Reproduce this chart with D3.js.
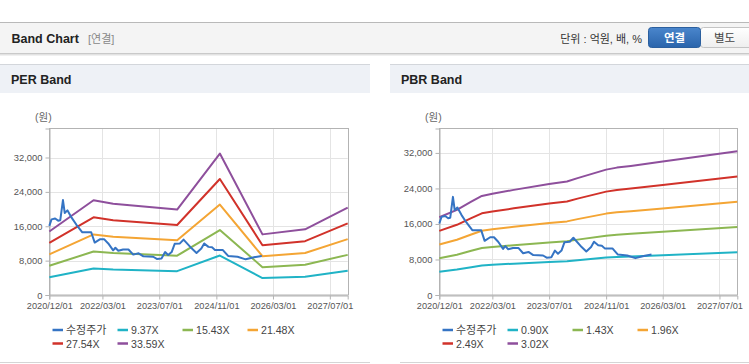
<!DOCTYPE html>
<html><head><meta charset="utf-8">
<script src="https://cdn.jsdelivr.net/npm/d3@7"></script>
<style>
html,body{margin:0;padding:0;background:#fff;}
svg{display:block;}
text{font-family:"Liberation Sans","Noto Sans CJK KR",sans-serif;}
</style></head>
<body>
<svg id="c" width="749" height="364"></svg>
<script>
// ---------- DATA ----------
const xTickLabels = ["2020/12/01","2022/03/01","2023/07/01","2024/11/01","2026/03/01","2027/07/01"];
const yTicks = [0, 8000, 16000, 24000, 32000];

const priceDates = ["2020-12-01","2020-12-20","2021-01-20","2021-02-15","2021-03-05","2021-03-28","2021-04-12","2021-05-05","2021-06-10","2021-07-20","2021-09-10","2021-11-25","2021-12-25","2022-02-10","2022-03-15","2022-04-20","2022-06-01","2022-06-20","2022-07-15","2022-08-25","2022-10-10","2022-11-20","2023-01-05","2023-02-15","2023-05-10","2023-06-10","2023-07-20","2023-08-20","2023-09-15","2023-10-15","2023-11-10","2023-12-25","2024-01-25","2024-04-05","2024-05-15","2024-06-25","2024-07-20","2024-08-25","2024-09-25","2024-10-20","2024-12-25","2025-02-10","2025-05-01","2025-07-10","2025-09-20","2025-11-25"];
const priceValues = [16100,17600,17800,17300,17400,22100,19100,19700,18000,16400,14600,14600,12200,13000,13000,12000,10400,11000,10300,10600,10600,9400,9700,9000,8900,8400,8500,10000,9300,10000,11900,12000,12900,10800,9800,10800,12000,11200,11100,10500,10500,9100,8900,8300,8800,9100];

// PER band
const perDates = ["2020-12-01","2021-12-15","2022-06-01","2023-12-01","2024-12-01","2025-12-01","2026-12-01","2027-12-01"];
const perBandNames = ["9.37X","15.43X","21.48X","27.54X","33.59X"];
const per937  = [4120, 6150, 5920, 5550, 9180, 3940, 4260, 5670];
const per1543 = [6790, 10120, 9750, 9140, 15120, 6480, 7020, 9340];
const per2148 = [9450, 14090, 13580, 12720, 21050, 9020, 9770, 13000];
const per2754 = [12120, 18070, 17410, 16300, 26990, 11570, 12530, 16660];
const per3359 = [14780, 22040, 21230, 19890, 32920, 14110, 15280, 20320];

// PBR band
const pbrDates = ["2020-12-01","2021-05-01","2021-09-01","2021-12-01","2022-03-01","2022-09-01","2023-07-01","2023-12-01","2024-03-01","2024-11-01","2025-02-01","2025-06-01","2026-03-01","2027-12-01"];
const pbrBandNames = ["0.90X","1.43X","1.96X","2.49X","3.02X"];
const pbr090 = [5220, 5720, 6260, 6650, 6800, 7060, 7450, 7610, 7850, 8420, 8550, 8670, 8960, 9650];
const pbr143 = [8290, 9080, 9950, 10570, 10800, 11210, 11840, 12100, 12470, 13370, 13590, 13770, 14230, 15330];
const pbr196 = [11370, 12450, 13640, 14480, 14800, 15370, 16230, 16580, 17090, 18330, 18620, 18880, 19500, 21010];
const pbr249 = [14440, 15810, 17330, 18400, 18800, 19520, 20620, 21070, 21710, 23280, 23660, 23980, 24780, 26690];
const pbr302 = [17520, 19180, 21020, 22320, 22800, 23680, 25010, 25550, 26330, 28240, 28690, 29080, 30050, 32370];

const colors = ["#3574c4","#20b3c6","#8cb752","#f4a534","#d1322a","#8e4f9c"];

// ---------- DRAW ----------
const svg = d3.select("#c");
const parse = d3.timeParse("%Y-%m-%d");
const fmtIn = d3.timeParse("%Y/%m/%d");

// top header bar
svg.append("rect").attr("x",0).attr("y",22).attr("width",749).attr("height",31).attr("fill","#f4f4f4");
svg.append("line").attr("x1",0).attr("x2",749).attr("y1",22.5).attr("y2",22.5).attr("stroke","#b9b9b9");
svg.append("line").attr("x1",0).attr("x2",749).attr("y1",53.5).attr("y2",53.5).attr("stroke","#c9c9c9");
svg.append("line").attr("x1",0).attr("x2",749).attr("y1",54.5).attr("y2",54.5).attr("stroke","#e2e2e2");
svg.append("line").attr("x1",0).attr("x2",749).attr("y1",55.5).attr("y2",55.5).attr("stroke","#f0f0f0");
svg.append("text").attr("x",11.5).attr("y",42.5).attr("font-size",12.5).attr("font-weight","bold").attr("fill","#222").text("Band Chart");
svg.append("text").attr("x",88).attr("y",42.5).attr("font-size",11).attr("fill","#888").text("[연결]");
svg.append("text").attr("x",642).attr("y",42.5).attr("text-anchor","end").attr("font-size",11).attr("fill","#333").text("단위 : 억원, 배, %");
const defs = svg.append("defs");
const g1 = defs.append("linearGradient").attr("id","blueg").attr("x1",0).attr("x2",0).attr("y1",0).attr("y2",1);
g1.append("stop").attr("offset","0").attr("stop-color","#4a86cc");
g1.append("stop").attr("offset","1").attr("stop-color","#2a64ab");
const g2 = defs.append("linearGradient").attr("id","whiteg").attr("x1",0).attr("x2",0).attr("y1",0).attr("y2",1);
g2.append("stop").attr("offset","0").attr("stop-color","#ffffff");
g2.append("stop").attr("offset","1").attr("stop-color","#eeeeee");
svg.append("rect").attr("x",700.5).attr("y",27.5).attr("width",52).attr("height",20).attr("rx",3).attr("fill","url(#whiteg)").attr("stroke","#c4c4c4");
svg.append("rect").attr("x",648.5).attr("y",27.5).attr("width",52).attr("height",20).attr("rx",3).attr("fill","url(#blueg)").attr("stroke","#2b5f9e");
svg.append("text").attr("x",674.5).attr("y",42).attr("text-anchor","middle").attr("font-size",11.5).attr("font-weight","bold").attr("fill","#fff").text("연결");
svg.append("text").attr("x",724.5).attr("y",42).attr("text-anchor","middle").attr("font-size",11.5).attr("fill","#444").text("별도");

function panel(opt){
  const {x0, w, title, bandDates, bands, names, ymax, plotL, plotR, legendX} = opt;
  // panel header
  svg.append("rect").attr("x",x0).attr("y",64).attr("width",w).attr("height",29).attr("fill","#eef1f6");
  svg.append("line").attr("x1",x0).attr("x2",x0+w).attr("y1",64.5).attr("y2",64.5).attr("stroke","#d3d6db");
  svg.append("text").attr("x",x0+11).attr("y",84).attr("font-size",12.5).attr("font-weight","bold").attr("fill","#222").text(title);
  // bottom border
  svg.append("line").attr("x1",x0+ (x0>0?10:0)).attr("x2",x0+w).attr("y1",362.5).attr("y2",362.5).attr("stroke","#d5d5d5");

  const x = d3.scaleTime().domain([parse("2020-12-01"), parse("2027-12-01")]).range([plotL, plotR]);
  const y = d3.scaleLinear().domain([0, ymax]).range([295, 128.5]);
  const g = svg.append("g");
  const xt = xTickLabels.map(s => fmtIn(s));
  // grid
  g.selectAll(".vg").data(xt).enter().append("line")
    .attr("x1",d=>Math.round(x(d))+0.5).attr("x2",d=>Math.round(x(d))+0.5).attr("y1",128.5).attr("y2",295).attr("stroke","#e4e4e4");
  g.selectAll(".hg").data(yTicks).enter().append("line")
    .attr("x1",plotL).attr("x2",plotR).attr("y1",d=>Math.round(y(d))+0.5).attr("y2",d=>Math.round(y(d))+0.5).attr("stroke","#e4e4e4");
  // frame
  g.append("rect").attr("x",Math.round(plotL)+0.5).attr("y",128.5).attr("width",Math.round(plotR)-Math.round(plotL)).attr("height",166.5)
    .attr("fill","none").attr("stroke","#b3b3b3");
  // axes
  const xa = d3.axisBottom(x).tickValues(xt).tickFormat(d3.timeFormat("%Y/%m/%d")).tickSize(4).tickPadding(3);
  const xg = g.append("g").attr("transform","translate(0,295.5)").call(xa);
  xg.select(".domain").attr("stroke","#b3b3b3");
  xg.selectAll(".tick line").attr("stroke","#b3b3b3");
  xg.selectAll("text").attr("font-size",9.2).attr("fill","#555").attr("font-family",'"Liberation Sans",sans-serif');
  const ya = d3.axisLeft(y).tickValues(yTicks).tickFormat(d3.format(",")).tickSize(4).tickPadding(3);
  const yg = g.append("g").attr("transform",`translate(${Math.round(plotL)+0.5},0)`).call(ya);
  yg.select(".domain").attr("stroke","#b3b3b3");
  yg.selectAll(".tick line").attr("stroke","#b3b3b3");
  yg.selectAll("text").attr("font-size",9.4).attr("fill","#555").attr("font-family",'"Liberation Sans",sans-serif');
  svg.append("text").attr("x",plotL-6).attr("y",121).attr("text-anchor","middle").attr("font-size",10.5).attr("fill","#666").text("(원)");

  // lines
  const bd = bandDates.map(parse);
  const line = d3.line().x(d=>x(d[0])).y(d=>y(d[1]));
  bands.forEach((vals,i)=>{
    g.append("path").attr("d", line(bd.map((d,j)=>[d, vals[j]])))
      .attr("fill","none").attr("stroke",colors[i+1]).attr("stroke-width",2).attr("stroke-linejoin","round");
  });
  const pd = priceDates.map(parse);
  g.append("path").attr("d", line(pd.map((d,j)=>[d, priceValues[j]])))
    .attr("fill","none").attr("stroke",colors[0]).attr("stroke-width",2).attr("stroke-linejoin","round");

  // legend
  const items = ["수정주가"].concat(names);
  items.forEach((t,i)=>{
    const row = i < 4 ? 0 : 1, col = i < 4 ? i : i-4;
    const lx = legendX + col*65, ly = row===0 ? 330 : 343.5;
    svg.append("line").attr("x1",lx).attr("x2",lx+10.5).attr("y1",ly).attr("y2",ly).attr("stroke",colors[i]).attr("stroke-width",2.5);
    svg.append("text").attr("x",lx+13.5).attr("y",ly+4).attr("font-size",i===0?11:10.6).attr("fill","#444").text(t);
  });
}

panel({x0:0, w:370, title:"PER Band", bandDates:perDates, bands:[per937,per1543,per2148,per2754,per3359], names:perBandNames, ymax:38750, plotL:49.3, plotR:347.7, legendX:52.5});
panel({x0:390, w:359, title:"PBR Band", bandDates:pbrDates, bands:[pbr090,pbr143,pbr196,pbr249,pbr302], names:pbrBandNames, ymax:37500, plotL:439.3, plotR:737.3, legendX:442.5});
</script>
</body></html>
